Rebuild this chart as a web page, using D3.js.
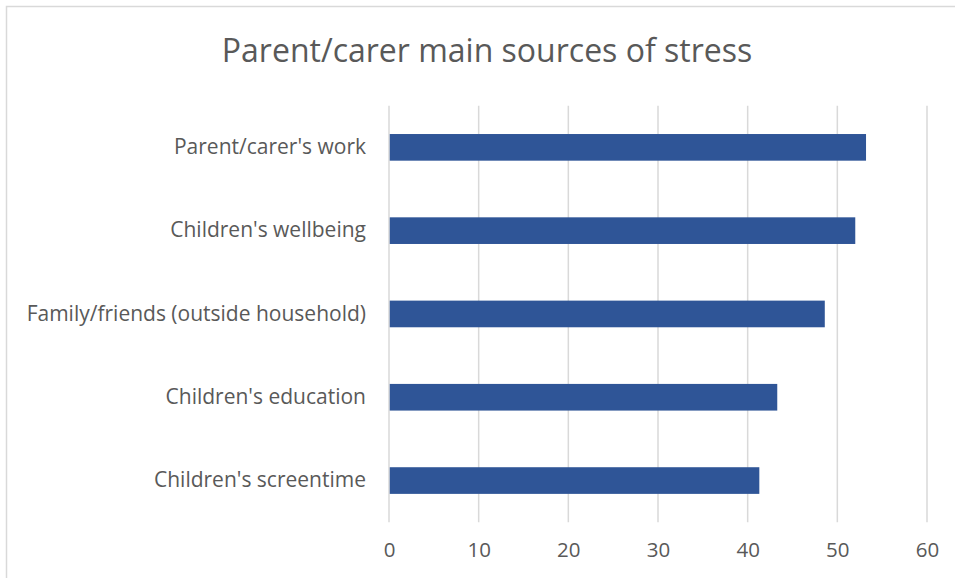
<!DOCTYPE html>
<html>
<head>
<meta charset="utf-8">
<script src="https://cdn.jsdelivr.net/npm/d3@7"></script>
<style>
	body { margin: 0; background: #fff; }
	svg text { font-family: "Open Sans", Lato, sans-serif; fill: #595959; }
</style>
</head>
<body>
<div id="chart"></div>
<script>
let categories	= ["Parent/carer's work", "Children's wellbeing", "Family/friends (outside household)", "Children's education", "Children's screentime"];
let values		= [53.2, 52.0, 48.6, 43.3, 41.3];
let tickValues	= [0, 10, 20, 30, 40, 50, 60];
let title		= "Parent/carer main sources of stress";

function createChart() {
	let canvasWidth		= 955;
	let canvasHeight	= 578;

	let margin	= { top: 105.7, right: 28, bottom: 56, left: 389 };
	let width	= 927 - margin.left;
	let height	= 522.2 - margin.top;

	let svg = d3.select("#chart").append("svg")
		.attr("width", canvasWidth)
		.attr("height", canvasHeight);

	// chart area border (only top/left visible in the crop)
	svg.append("path")
		.attr("d", "M6.5," + canvasHeight + "V6.5H" + canvasWidth)
		.attr("fill", "none")
		.attr("stroke", "#d9d9d9")
		.attr("stroke-width", 1.5);

	svg.append("text")
		.attr("x", 487)
		.attr("y", 62)
		.attr("text-anchor", "middle")
		.style("font-size", "32px")
		.text(title);

	let g = svg.append("g")
		.attr("transform", "translate(" + margin.left + "," + margin.top + ")");

	let x = d3.scaleLinear().domain([0, 60]).range([0, width]);
	let y = d3.scaleBand().domain(categories).range([0, height]).paddingInner(0.68).paddingOuter(0.34);

	// gridlines
	g.append("g")
		.selectAll("line")
		.data(tickValues)
		.enter().append("line")
			.attr("x1", (d) => x(d))
			.attr("x2", (d) => x(d))
			.attr("y1", 0)
			.attr("y2", height)
			.attr("stroke", "#d9d9d9")
			.attr("stroke-width", 1.5);

	g.selectAll("rect.bar")
		.data(values)
		.enter().append("rect")
			.attr("class", "bar")
			.attr("x", x(0) + 0.75)
			.attr("y", (d, i) => y(categories[i]))
			.attr("width", (d) => x(d) - x(0) - 0.75)
			.attr("height", y.bandwidth())
			.attr("fill", "#2f5597");

	let xAxis = g.append("g")
		.attr("transform", "translate(0," + height + ")")
		.call(d3.axisBottom(x).tickValues(tickValues).tickSize(0).tickPadding(20));
	xAxis.select(".domain").remove();
	xAxis.selectAll("text").style("font-size", "20.5px").attr("fill", null);

	let yAxis = g.append("g")
		.call(d3.axisLeft(y).tickSize(0).tickPadding(23));
	yAxis.select(".domain").remove();
	yAxis.selectAll("text").style("font-size", "21px").attr("fill", null);
}

createChart();
</script>
</body>
</html>
